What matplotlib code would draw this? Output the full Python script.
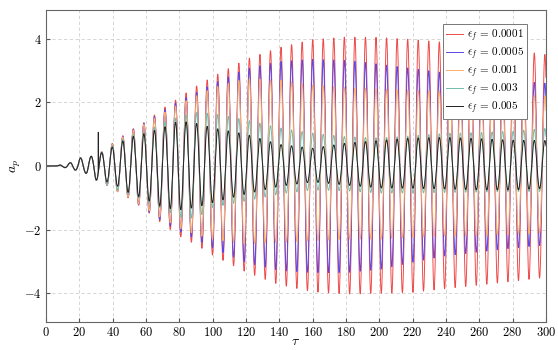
import numpy as np
import matplotlib
matplotlib.use("Agg")
import matplotlib.pyplot as plt

plt.rcParams["font.family"] = "serif"
plt.rcParams["font.serif"] = ["cmr10"]
plt.rcParams["mathtext.fontset"] = "cm"
plt.rcParams["axes.formatter.use_mathtext"] = True

# oscillation: peaks at tau = 33.4 + k * 6.332
period = 6.332
first_peak = 33.4

# common start (all series identical before the forcing kicks in)
early_up_tau = [0, 6, 8.4, 14.4, 20.4, 26.8]
early_up = [0, 0, 0.03, 0.10, 0.25, 0.30]
early_lo_tau = [0, 6, 11.2, 17.0, 23.6, 29.6]
early_lo = [0, 0, 0.05, 0.12, 0.22, 0.44]

# envelope knots (peak heights / trough depths) for each series
knots = [33.4, 40, 50, 60, 70, 80, 90, 100, 120, 140, 160, 180, 200, 220, 240, 260, 280, 300]

labels = [r"$\epsilon_f\,=\,0.0001$", r"$\epsilon_f\,=\,0.0005$", r"$\epsilon_f\,=\,0.001$",
          r"$\epsilon_f\,=\,0.003$", r"$\epsilon_f\,=\,0.005$"]
colors = ["#ef4a4a", "#5a46e6", "#ffb066", "#74bcae", "#222222"]

upper = [
    [0.44, 0.72, 1.10, 1.40, 1.80, 2.15, 2.50, 2.80, 3.35, 3.72, 3.97, 4.05, 4.04, 3.97, 3.88, 3.76, 3.64, 3.50],
    [0.44, 0.70, 1.08, 1.38, 1.72, 2.05, 2.30, 2.58, 3.05, 3.28, 3.35, 3.32, 3.20, 3.06, 2.92, 2.80, 2.68, 2.60],
    [0.44, 0.70, 1.05, 1.35, 1.65, 1.95, 2.20, 2.45, 2.75, 2.70, 2.55, 2.47, 2.42, 2.38, 2.36, 2.30, 2.25, 2.20],
    [0.42, 0.65, 0.95, 1.10, 1.35, 1.55, 1.68, 1.65, 1.45, 1.20, 1.03, 0.92, 0.88, 0.95, 1.03, 1.05, 1.10, 1.18],
    [0.42, 0.60, 0.90, 1.03, 1.20, 1.42, 1.34, 1.20, 1.00, 0.68, 0.56, 0.72, 0.80, 0.88, 0.90, 0.86, 0.81, 0.80],
]
lower = [
    [0.50, 0.72, 1.02, 1.40, 1.82, 2.20, 2.47, 2.80, 3.33, 3.73, 3.95, 4.02, 4.00, 3.97, 3.85, 3.74, 3.62, 3.50],
    [0.50, 0.72, 1.00, 1.38, 1.75, 2.05, 2.30, 2.58, 3.03, 3.28, 3.35, 3.35, 3.25, 3.02, 2.82, 2.70, 2.58, 2.48],
    [0.50, 0.72, 1.00, 1.35, 1.65, 1.95, 2.15, 2.30, 2.45, 2.40, 2.35, 2.30, 2.30, 2.25, 2.20, 2.20, 2.15, 2.10],
    [0.50, 0.70, 0.90, 1.10, 1.35, 1.60, 1.65, 1.30, 1.10, 0.88, 0.75, 0.78, 0.85, 0.85, 0.83, 0.82, 0.80, 0.80],
    [0.45, 0.55, 0.85, 1.05, 1.30, 1.38, 1.30, 1.15, 0.88, 0.64, 0.50, 0.60, 0.69, 0.70, 0.72, 0.75, 0.75, 0.70],
]

# short spike on the black curve
spike_tau = 31.4
spike_val = 1.06

tau = np.arange(0, 300.001, 0.02)
carrier = np.cos(2 * np.pi * (tau - first_peak) / period)

fig = plt.figure(figsize=(5.58, 3.5), dpi=100)
ax = fig.add_axes([0.0824, 0.08, 0.896, 0.8914])

for i in range(5):
    up = np.interp(tau, early_up_tau + knots, early_up + upper[i])
    lo = np.interp(tau, early_lo_tau + knots, early_lo + lower[i])
    y = np.where(carrier > 0, up * carrier, lo * carrier)
    t = tau
    if i == 4:
        k = np.searchsorted(tau, spike_tau)
        t = np.insert(tau, k, spike_tau)
        y = np.insert(y, k, spike_val)
    ax.plot(t, y, color=colors[i], lw=0.7, label=labels[i])

ax.set_xlim(0, 300)
ax.set_ylim(-4.9, 4.9)
ax.set_xticks(np.arange(0, 301, 20))
ax.set_yticks([-4, -2, 0, 2, 4])
ax.grid(True, color="#d0d0d0", ls=(0, (4, 3)), lw=0.6)
ax.tick_params(direction="in", labelsize=9, color="#555555", length=3, pad=3)
for s in ax.spines.values():
    s.set_color("#666666")
ax.set_xlabel(r"$\tau$", fontsize=10)
ax.xaxis.set_label_coords(0.5, -0.045)
ax.set_ylabel(r"$a_p$", fontsize=10)
ax.yaxis.set_label_coords(-0.045, 0.5)

leg = ax.legend(loc="upper right", fontsize=8, fancybox=False, framealpha=1,
                edgecolor="#777777", handlelength=1.5, handletextpad=0.4,
                borderpad=0.3, labelspacing=0.15, bbox_to_anchor=(0.974, 0.974))
leg.get_frame().set_linewidth(0.7)

fig.savefig("out.png", dpi=100)
plt.close(fig)
